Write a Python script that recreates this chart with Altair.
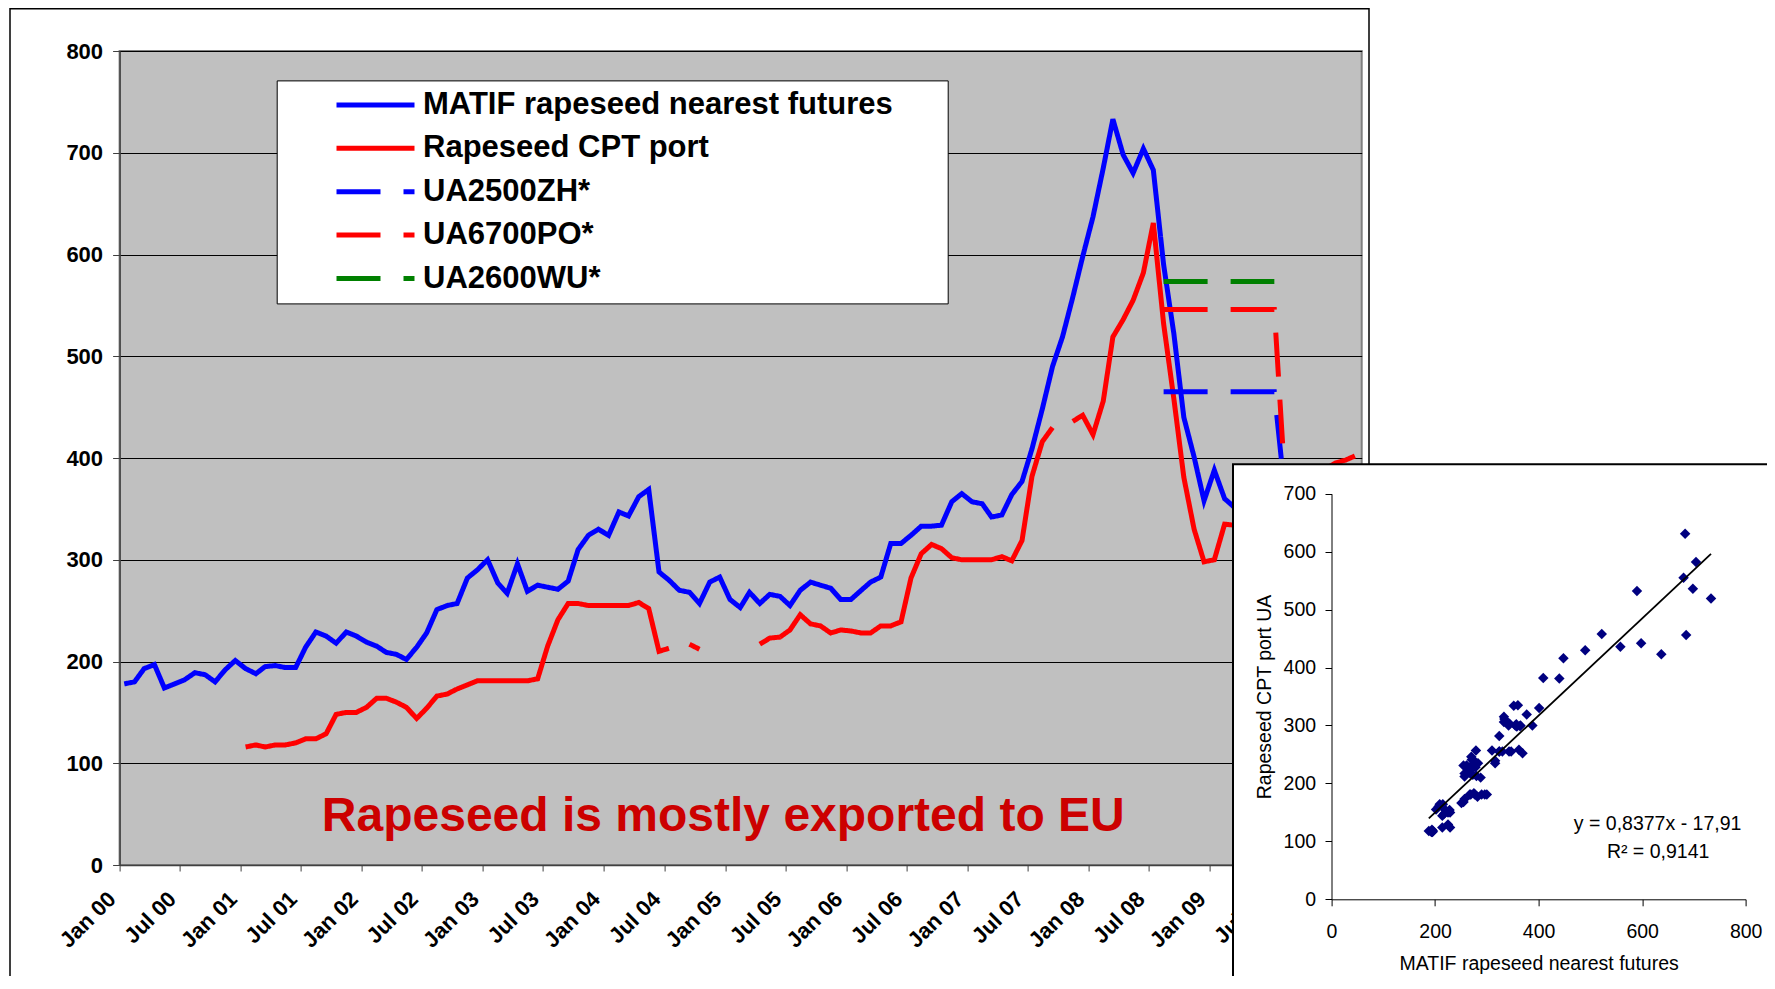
import altair as alt
import pandas as pd

FONT = "Liberation Sans"

# ---------------- data ----------------
SERIES = ["MATIF rapeseed nearest futures", "Rapeseed CPT port",
          "UA2500ZH*", "UA6700PO*", "UA2600WU*"]
COLORS = ["#0000FF", "#FF0000", "#0000FF", "#FF0000", "#008000"]
DASHES = [[1, 0], [1, 0], [44, 23], [44, 23], [44, 23]]
WIDTHS = [5, 5, 6.5, 6.5, 6.5]

# month index 0 = Jan 2000 (points sit mid-month)
MATIF_START = 0
MATIF = [178, 180, 193, 197, 174, 178, 182, 189, 187, 180, 192, 201,
         193, 188, 195, 196, 194, 194, 214, 229, 225, 218, 229, 225,
         219, 215, 209, 207, 202, 214, 228, 251, 255, 257, 282, 290,
         300, 277, 267, 296, 269, 275, 273, 271, 279, 310, 324, 330,
         324, 347, 343, 362, 369, 288, 280, 270, 268, 257, 278, 283,
         261, 253, 268, 257, 266, 264, 255, 270, 278, 275, 272, 261,
         261, 270, 278, 283, 316, 316, 324, 333, 333, 334, 357, 365,
         357, 355, 342, 344, 364, 377, 409, 448, 490, 519, 558, 598,
         637, 685, 733, 698, 680, 704, 683, 590, 522, 440, 401, 358,
         388, 360, 352]

CPT_START = 12
CPT = [116, 118, 116, 118, 118, 120, 124, 124, 129, 148, 150, 150,
       155, 164, 164, 160, 155, 144, 154, 166, 168, 173, 177, 181,
       181, 181, 181, 181, 181, 183, 215, 241, 257, 257, 255, 255,
       255, 255, 255, 258, 252, 210, 213, None, 217, 212, None, None,
       None, None, None, 217, 223, 224, 231, 246, 237, 235, 228, 231,
       230, 228, 228, 235, 235, 239, 282, 306, 315, 311, 302, 300,
       300, 300, 300, 303, 299, 319, 382, 416, 430, None, 436, 442,
       423, 456, 519, 536, 555, 582, 631, 532, 458, 381, 330, 298,
       300, 335, 334]
CPT_TAIL_START = 120
CPT_TAIL = [395, 398, 402]

UA_START = 103
UA2500ZH = [465, 465, 465, 465, 465, 465, 465, 465, 465, 465, 465, 465, 368]
UA6700PO = [546, 546, 546, 546, 546, 546, 546, 546, 546, 546, 546, 546, 382]
UA2600WU = [573.5, 573.5, 573.5, 573.5, 573.5, 573.5, 573.5, 573.5, 573.5,
            573.5, 573.5, 573.5]

Y_TICKS = [0, 100, 200, 300, 400, 500, 600, 700, 800]
INSET_X_TICKS = [0, 200, 400, 600, 800]
INSET_Y_TICKS = [0, 100, 200, 300, 400, 500, 600, 700]
TREND_SLOPE = 0.8377
TREND_INTERCEPT = -17.91
EQ_LINE1 = "y = 0,8377x - 17,91"
EQ_LINE2 = "R\u00b2 = 0,9141"
ANNOTATION = "Rapeseed is mostly exported to EU"
INSET_X_TITLE = "MATIF rapeseed nearest futures"
INSET_Y_TITLE = "Rapeseed CPT port UA"


def month_date(m):
    return pd.Timestamp(year=2000 + m // 12, month=m % 12 + 1, day=15)


rows = []


def add(series, start, values):
    for i, v in enumerate(values):
        rows.append({"series": series, "date": month_date(start + i), "value": v})


add(SERIES[0], MATIF_START, MATIF)
add(SERIES[1], CPT_START, CPT)
add(SERIES[1], CPT_TAIL_START, CPT_TAIL)
add(SERIES[2], UA_START, UA2500ZH)
add(SERIES[3], UA_START, UA6700PO)
add(SERIES[4], UA_START, UA2600WU)
ts = pd.DataFrame(rows)
ts["value"] = pd.to_numeric(ts["value"])

# scatter: MATIF vs CPT for months where both exist
pairs = []
for i, c in enumerate(CPT):
    m = CPT_START + i
    if c is not None and m - MATIF_START < len(MATIF):
        pairs.append({"matif": MATIF[m - MATIF_START], "cpt": c})
sc = pd.DataFrame(pairs)
xs = [sc["matif"].min(), sc["matif"].max()]
trend = pd.DataFrame({"matif": xs,
                      "cpt": [TREND_SLOPE * v + TREND_INTERCEPT for v in xs]})

one = pd.DataFrame({"k": [0]})

# ---------------- layout ----------------
W, H = 1242.1, 814

legend = alt.Legend(
    title=" ", titleOrient="right", titlePadding=52, titleFontSize=4,
    orient="none", legendX=157.1, legendY=29.4,
    direction="vertical", symbolType="stroke", symbolSize=6084,
    symbolStrokeWidth=6, clipHeight=43, rowPadding=0.4, padding=3,
    symbolOffset=54.3, labelOffset=6, labelFont=FONT,
    labelFontSize=31, labelFontWeight="bold", labelColor="black",
    labelLimit=1000, fillColor="white", strokeColor="black",
)

x_time = alt.X(
    "date:T",
    scale=alt.Scale(domain=[alt.DateTime(year=2000, month=1, date=1),
                            alt.DateTime(year=2010, month=4, date=4, hours=12)]),
    axis=alt.Axis(
        values=[alt.DateTime(year=y, month=mo, date=1)
                for y in range(2000, 2011) for mo in (1, 7)],
        format="%b %y", labelAngle=-45, labelAlign="right",
        labelBaseline="top", labelPadding=17, labelOffset=-15,
        labelFont=FONT, labelFontSize=22, labelFontWeight="bold",
        labelColor="black", labelOverlap=False, labelFlush=False,
        tickSize=6, tickColor="#404040", domainColor="#404040",
        domainWidth=1.5, grid=False, title=None),
)
y_val = alt.Y(
    "value:Q",
    scale=alt.Scale(domain=[0, 800], nice=False),
    axis=alt.Axis(values=Y_TICKS, grid=True, gridColor="black",
                  gridWidth=1, domainColor="#404040", domainWidth=1.5,
                  tickColor="#404040", tickSize=7, labelPadding=10,
                  labelFont=FONT, labelFontSize=22, labelFontWeight="bold",
                  labelColor="black", title=None),
)

lines = alt.Chart(ts).mark_line(
    clip=True, invalid="break-paths-show-domains"
).encode(
    x=x_time, y=y_val,
    color=alt.Color("series:N", scale=alt.Scale(domain=SERIES, range=COLORS),
                    legend=legend),
    strokeDash=alt.StrokeDash("series:N",
                              scale=alt.Scale(domain=SERIES, range=DASHES),
                              legend=legend),
    strokeWidth=alt.StrokeWidth("series:N",
                                scale=alt.Scale(domain=SERIES, range=WIDTHS),
                                legend=None),
)

frame = alt.Chart(one).mark_rect(
    fillOpacity=0, stroke="black", strokeWidth=1.5
).encode(x=alt.value(-109.6), x2=alt.value(1249.4),
         y=alt.value(-42.2), y2=alt.value(1000))

annot = alt.Chart(pd.DataFrame({"label": [ANNOTATION]})).mark_text(
    font=FONT, fontWeight="bold", fontSize=48, color="#CC0000",
    align="center", baseline="alphabetic"
).encode(x=alt.value(603.7), y=alt.value(779.5), text="label:N")

inset_box = alt.Chart(one).mark_rect(
    fill="white", stroke="black", strokeWidth=2
).encode(x=alt.value(1113.4), x2=alt.value(1700),
         y=alt.value(413.3), y2=alt.value(1000))

sx = alt.Scale(domain=[0, 800], range=[1211.9, 1626.1], nice=False, zero=False)
sy = alt.Scale(domain=[0, 700], range=[848.3, 442.7], nice=False, zero=False)

inset_x_axis = alt.Axis(
    orient="bottom", offset=34.3, values=INSET_X_TICKS, grid=False,
    domainColor="black", tickColor="black", tickSize=6.5, labelPadding=17,
    labelFont=FONT, labelFontSize=19.5, labelFontWeight="normal",
    labelColor="black", labelFlush=False, labelOverlap=False,
    title=INSET_X_TITLE, titleFont=FONT, titleFontSize=19.5,
    titleFontWeight="normal", titleColor="black", titlePadding=13, zindex=2)
inset_y_axis = alt.Axis(
    orient="left", offset=-1211.9, values=INSET_Y_TICKS, grid=False,
    domainColor="black", tickColor="black", tickSize=6.5, labelPadding=9.4,
    labelFont=FONT, labelFontSize=19.5, labelFontWeight="normal",
    labelColor="black", labelFlush=False, labelOverlap=False,
    title=INSET_Y_TITLE, titleFont=FONT, titleFontSize=19.5,
    titleFontWeight="normal", titleColor="black", titlePadding=9, zindex=2)

points = alt.Chart(sc).mark_point(
    shape="diamond", filled=True, size=110, color="#000080", opacity=1
).encode(x=alt.X("matif:Q", scale=sx, axis=inset_x_axis),
         y=alt.Y("cpt:Q", scale=sy, axis=inset_y_axis))

trend_line = alt.Chart(trend).mark_line(color="black", strokeWidth=1.8).encode(
    x=alt.X("matif:Q", scale=sx, axis=None),
    y=alt.Y("cpt:Q", scale=sy, axis=None))

eq_style = dict(font=FONT, fontSize=19.5, color="black", align="center",
                baseline="alphabetic")
eq1 = alt.Chart(pd.DataFrame({"label": [EQ_LINE1]})).mark_text(**eq_style).encode(
    x=alt.value(1538), y=alt.value(779), text="label:N")
eq2 = alt.Chart(pd.DataFrame({"label": [EQ_LINE2]})).mark_text(**eq_style).encode(
    x=alt.value(1538.5), y=alt.value(807.3), text="label:N")

chart = alt.layer(
    frame, lines, annot, inset_box, points, trend_line, eq1, eq2
).resolve_scale(
    x="independent", y="independent"
).properties(
    width=W, height=H,
    autosize=alt.AutoSizeParams(type="none"),
    padding={"left": 111.6, "top": 43, "right": 405.3, "bottom": 111},
    background="white",
).configure_view(fill="#C0C0C0", stroke="#808080", strokeWidth=2)

chart.save("out.html", embed_options={"renderer": "svg", "actions": False})
